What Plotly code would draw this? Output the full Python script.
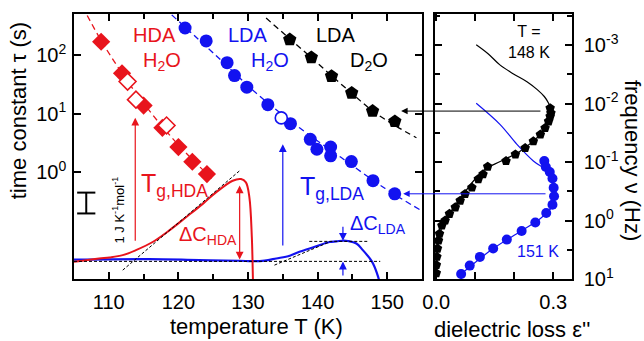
import plotly.graph_objects as go
import math

# ---------------- data ----------------
# Left panel: relaxation time tau (s) vs temperature T (K)
hda_T = [108.9, 111.9, 115.0, 117.7, 120.0, 122.0, 124.1]
hda_tau = [170, 49, 13.8, 5.75, 2.69, 1.51, 0.93]
hda_open_T = [112.7, 113.9, 118.3]
hda_open_tau = [35.5, 17.4, 6.3]
hda_fit_T = [106.9, 109.0, 112.0, 115.0, 118.0, 121.0, 124.85]
hda_fit_tau = [479, 170, 47.3, 15.1, 5.45, 2.19, 0.769]

lda_T = [120.96, 123.99, 127.0, 128.06, 129.83, 132.85, 136.1, 138.95, 139.9,
         141.87, 141.87, 144.85, 147.96, 151.08]
lda_tau = [292, 176, 74.6, 45.0, 28.4, 14.3, 6.76, 3.66, 2.47, 2.70, 1.91, 1.52,
           0.718, 0.428]
lda_open_T = [134.78]
lda_open_tau = [8.49]
lda_fit_T = [119.04, 125.4, 131.4, 137.4, 143.4, 149.6, 154.9]
lda_fit_tau = [490, 98.9, 21.4, 5.75, 1.78, 0.537, 0.221]

d2o_T = [136.0, 139.1, 142.0, 144.9, 147.9, 151.1]
d2o_tau = [185, 91.6, 43.7, 22.6, 11.1, 7.38]
d2o_fit_T = [132.6, 136.0, 139.1, 142.0, 144.9, 147.9, 151.1, 154.2]
d2o_fit_tau = [432, 191, 91.2, 44.7, 22.4, 11.2, 6.31, 3.89]

# DSC heat capacity traces (J K^-1 mol^-1, offset)
dsc_hda_T = [105.0, 108.6, 110.1, 112.0, 113.9, 116.3, 118.7, 121.1, 123.5, 125.4,
             127.8, 129.0, 129.7, 130.2, 130.55, 130.7, 130.75]
dsc_hda_c = [-0.08, 0.08, 0.13, 0.24, 0.48, 0.87, 1.43, 2.06, 2.70, 3.25, 3.81,
             3.89, 3.73, 3.01, 1.11, -0.80, -1.5]
dsc_lda_T = [105.0, 115.8, 123.0, 128.8, 130.6, 132.4, 134.06, 136.0, 137.4, 139.6,
             141.7, 142.7, 143.74, 144.36, 145.57, 146.5, 147.5, 147.96, 148.7, 149.0]
dsc_lda_c = [0.02, 0.05, 0.0, -0.03, -0.05, -0.02, 0.08, 0.21, 0.40, 0.64, 0.87,
             0.90, 0.94, 0.92, 0.80, 0.48, 0.08, -0.16, -0.80, -1.2]
base_T = [105.0, 149.0]
base_c = [-0.06, -0.06]
tan_hda_T = [112.0, 128.8]
tan_hda_c = [-0.48, 4.29]
tan_lda_T = [133.8, 141.7]
tan_lda_c = [-0.24, 0.87]
top_lda_T = [138.8, 147.2]
top_lda_c = [0.90, 0.90]
scalebar_T = 106.76
scalebar_c = [2.24, 3.24]

Tg_hda = 113.8
Tg_lda = 135.0
dC_hda = dict(T=128.8, lo=0.03, hi=3.65)
dC_lda = dict(T=143.64, lo=-0.07, hi=0.93)

# Right panel: dielectric loss spectra
eps_148 = [0.292, 0.294, 0.292, 0.288, 0.279, 0.267, 0.249, 0.228, 0.203, 0.179,
           0.132, 0.12, 0.108, 0.0915, 0.074, 0.0615, 0.049, 0.034, 0.023, 0.0146,
           0.0085, 0.006, 0.0033, 0.0018, 0.0005, 0.0003]
nu_148 = [0.0120, 0.0146, 0.0166, 0.0202, 0.0263, 0.0339, 0.0441, 0.0575, 0.0741,
          0.0962, 0.120, 0.162, 0.196, 0.273, 0.352, 0.458, 0.596, 0.769, 1.0, 1.22,
          1.68, 2.19, 3.02, 4.17, 5.75, 7.94]
fit148_eps = [0.1026, 0.133, 0.164, 0.197, 0.2326, 0.259, 0.277, 0.288, 0.295, 0.290,
              0.267, 0.215, 0.164, 0.131, 0.10, 0.0667, 0.036, 0.0154, 0.005, 0.0013]
fit148_nu = [0.00099, 0.00141, 0.00221, 0.00309, 0.00424, 0.00579, 0.00759, 0.00989,
             0.0137, 0.0186, 0.0335, 0.0652, 0.0982, 0.126, 0.195, 0.377, 0.731,
             1.26, 2.65, 7.03]
eps_151 = [0.277, 0.281, 0.291, 0.298, 0.301, 0.302, 0.298, 0.282, 0.254, 0.219,
           0.181, 0.146, 0.112, 0.086, 0.064]
nu_151 = [0.0962, 0.122, 0.148, 0.191, 0.275, 0.385, 0.537, 0.746, 1.08, 1.51, 2.12,
          3.02, 4.19, 5.90, 8.22]
fit151_eps = [0.1026, 0.164, 0.207, 0.249, 0.284, 0.297, 0.3026, 0.295, 0.267, 0.218,
              0.146, 0.064]
fit151_nu = [0.00989, 0.0229, 0.0501, 0.0962, 0.142, 0.210, 0.377, 0.603, 0.925,
             1.51, 3.02, 8.22]

# arrows linking spectra peaks to tau points
arr148 = dict(tau=11.1, T_tip=152.0, eps_tail=0.271)
arr151 = dict(tau=0.428, T_tip=152.3, eps_tail=0.284)

# ---------------- layout constants ----------------
W, H = 644, 341
ML, MR, MT, MB = 74, 72, 12, 62
PW, PH = W - ML - MR, H - MT - MB
XL = [105, 155]
XR = [-0.003, 0.348]
dom_left = [0, 348 / PW]
dom_right = [361 / PW, 1]

RED = "#e8141c"
BLUE = "#1212f0"
BLK = "#000000"
FONT = "Liberation Sans, Arial, sans-serif"


def px_left(T):
    return ML + dom_left[0] * PW + (T - XL[0]) / (XL[1] - XL[0]) * (dom_left[1] - dom_left[0]) * PW


def px_right(e):
    return ML + dom_right[0] * PW + (e - XR[0]) / (XR[1] - XR[0]) * (dom_right[1] - dom_right[0]) * PW


def xp(px):
    return (px - ML) / PW


def yp(py):
    return (H - MB - py) / PH


fig = go.Figure()

# DSC curves (overlay axis y2)
fig.add_trace(go.Scatter(x=dsc_lda_T, y=dsc_lda_c, yaxis="y2", mode="lines",
                         line=dict(color=BLUE, width=2.2, shape="spline")))
fig.add_trace(go.Scatter(x=dsc_hda_T, y=dsc_hda_c, yaxis="y2", mode="lines",
                         line=dict(color=RED, width=2, shape="spline")))
for tx, ty in [(base_T, base_c), (tan_hda_T, tan_hda_c), (tan_lda_T, tan_lda_c),
               (top_lda_T, top_lda_c)]:
    fig.add_trace(go.Scatter(x=tx, y=ty, yaxis="y2", mode="lines",
                             line=dict(color=BLK, width=1, dash="3px,2px")))
fig.add_trace(go.Scatter(x=[scalebar_T, scalebar_T], y=scalebar_c, yaxis="y2",
                         mode="lines+markers",
                         line=dict(color=BLK, width=2),
                         marker=dict(symbol="line-ew-open", size=13,
                                     line=dict(color=BLK, width=2))))

# fit lines
fig.add_trace(go.Scatter(x=hda_fit_T, y=hda_fit_tau, mode="lines",
                         line=dict(color=RED, width=1.3, dash="6px,4px", shape="spline")))
fig.add_trace(go.Scatter(x=lda_fit_T, y=lda_fit_tau, mode="lines",
                         line=dict(color=BLUE, width=1.3, dash="6px,4px", shape="spline")))
fig.add_trace(go.Scatter(x=d2o_fit_T, y=d2o_fit_tau, mode="lines",
                         line=dict(color=BLK, width=1.3, dash="6px,4px", shape="spline")))

# markers
fig.add_trace(go.Scatter(x=hda_T, y=hda_tau, mode="markers",
                         marker=dict(symbol="diamond", size=14, color=RED)))
fig.add_trace(go.Scatter(x=hda_open_T, y=hda_open_tau, mode="markers",
                         marker=dict(symbol="diamond", size=13, color="white",
                                     line=dict(color=RED, width=1.6))))
fig.add_trace(go.Scatter(x=lda_T, y=lda_tau, mode="markers",
                         marker=dict(symbol="circle", size=13, color=BLUE)))
fig.add_trace(go.Scatter(x=lda_open_T, y=lda_open_tau, mode="markers",
                         marker=dict(symbol="circle", size=12, color="white",
                                     line=dict(color=BLUE, width=1.6))))
fig.add_trace(go.Scatter(x=d2o_T, y=d2o_tau, mode="markers",
                         marker=dict(symbol="pentagon", size=14, color=BLK)))

# right panel
fig.add_trace(go.Scatter(x=fit148_eps, y=fit148_nu, xaxis="x2", yaxis="y3", mode="lines",
                         line=dict(color=BLK, width=1.2, shape="spline")))
fig.add_trace(go.Scatter(x=fit151_eps, y=fit151_nu, xaxis="x2", yaxis="y3", mode="lines",
                         line=dict(color=BLUE, width=1.2, shape="spline")))
fig.add_trace(go.Scatter(x=eps_148, y=nu_148, xaxis="x2", yaxis="y3", mode="markers",
                         marker=dict(symbol="pentagon", size=10, color=BLK)))
fig.add_trace(go.Scatter(x=eps_151, y=nu_151, xaxis="x2", yaxis="y3", mode="markers",
                         marker=dict(symbol="circle", size=10, color=BLUE)))

ann = []


def txt(x, y, s, color, size, xref="x", yref="y", angle=0, xanchor="center"):
    ann.append(dict(x=x, y=y, xref=xref, yref=yref, text=s, showarrow=False,
                    textangle=angle, xanchor=xanchor, yanchor="middle",
                    font=dict(family=FONT, size=size, color=color)))


# labels in left panel (paper pixel positions)
txt(xp(154), yp(33), "HDA", RED, 20, "paper", "paper")
txt(xp(162), yp(60), "H<sub>2</sub>O", RED, 20, "paper", "paper")
txt(xp(248), yp(33), "LDA", BLUE, 20, "paper", "paper")
txt(xp(270), yp(60), "H<sub>2</sub>O", BLUE, 20, "paper", "paper")
txt(xp(336), yp(33), "LDA", BLK, 20, "paper", "paper")
txt(xp(369), yp(60), "D<sub>2</sub>O", BLK, 20, "paper", "paper")
txt(xp(174), yp(184), "T<sub>g,HDA</sub>", RED, 25, "paper", "paper")
txt(xp(332), yp(187), "T<sub>g,LDA</sub>", BLUE, 25, "paper", "paper")
txt(xp(208), yp(235), "\u0394C<sub>HDA</sub>", RED, 20, "paper", "paper")
txt(xp(378), yp(224), "\u0394C<sub>LDA</sub>", BLUE, 20, "paper", "paper")
txt(xp(118), yp(210), "1 J K<sup>-1</sup>mol<sup>-1</sup>", BLK, 13, "paper", "paper", angle=-90)
# right panel labels
txt(xp(529), yp(40), "T =<br>148 K", BLK, 16, "paper", "paper")
txt(xp(538), yp(251), "151 K", BLUE, 16, "paper", "paper")
# axis titles
txt(xp(18), yp(110), "time constant \u03c4 (s)", BLK, 22, "paper", "paper", angle=-90)
txt(xp(632), yp(159), "frequency \u03bd (Hz)", BLK, 22, "paper", "paper", angle=90)
txt(xp(256), yp(327), "temperature T (K)", BLK, 22, "paper", "paper")
txt(xp(512), yp(330), "dielectric loss \u03b5''", BLK, 22, "paper", "paper")


def arrow(x, y, axv, ayv, color, xref="x", yref="y", side="end", width=1.2, absolute=True):
    d = dict(x=x, y=y, xref=xref, yref=yref, showarrow=True, text="",
             arrowcolor=color, arrowwidth=width, arrowhead=2, arrowsize=1.3,
             arrowside=side, startarrowhead=2, startarrowsize=1.3)
    if absolute:
        d.update(ax=axv, ay=ayv, axref=xref, ayref=yref)
    else:
        d.update(ax=axv, ay=ayv)
    ann.append(d)


# Tg arrows (log axis: use log10 values)
arrow(Tg_hda, 0.933, Tg_hda, -1.195, RED)
arrow(Tg_lda, 0.48, Tg_lda, -1.28, BLUE)
# delta C arrows
arrow(dC_hda["T"], dC_hda["lo"], dC_hda["T"], dC_hda["hi"], RED, yref="y2", side="end+start")
arrow(dC_lda["T"], dC_lda["hi"], dC_lda["T"], dC_lda["hi"] + 0.74, BLUE, yref="y2")
arrow(dC_lda["T"], dC_lda["lo"], dC_lda["T"], dC_lda["lo"] - 0.74, BLUE, yref="y2")
# peak -> tau arrows spanning both panels
for a, col in [(arr148, BLK), (arr151, BLUE)]:
    axpx = px_right(a["eps_tail"]) - px_left(a["T_tip"])
    arrow(a["T_tip"], math.log10(a["tau"]), axpx, 0, col, width=1, absolute=False)

axis_common = dict(showline=True, linecolor=BLK, linewidth=1.5, mirror="ticks",
                   ticks="inside", tickcolor=BLK, tickwidth=1.5, showgrid=False,
                   zeroline=False, tickfont=dict(family=FONT, size=20, color=BLK))

fig.update_layout(
    width=W, height=H, margin=dict(l=ML, r=MR, t=MT, b=MB, pad=0),
    paper_bgcolor="white", plot_bgcolor="white", showlegend=False,
    annotations=ann,
    xaxis=dict(domain=dom_left, range=XL, anchor="y",
               tickvals=[110, 120, 130, 140, 150], ticklen=7,
               minor=dict(tickvals=[115, 125, 135, 145], ticklen=5, ticks="inside",
                          tickcolor=BLK, tickwidth=1.5),
               ticklabelstandoff=4, **axis_common),
    yaxis=dict(domain=[0, 1], type="log", range=[-1.825, 2.705], anchor="x",
               tickvals=[1, 10, 100],
               ticktext=["10<sup>0</sup>", "10<sup>1</sup>", "10<sup>2</sup>"],
               ticklen=7, ticklabelstandoff=2, **axis_common),
    yaxis2=dict(overlaying="y", anchor="x", range=[-0.905, 11.81], visible=False),
    xaxis2=dict(domain=dom_right, range=XR, anchor="y3",
                tickvals=[0, 0.1, 0.2, 0.3], ticktext=["0.0", "", "", "0.3"],
                ticklen=7, ticklabelstandoff=4, **axis_common),
    yaxis3=dict(domain=[0, 1], type="log", range=[1.0, -3.53], anchor="x2", side="right",
                tickvals=[1e-3, 1e-2, 1e-1, 1, 10],
                ticktext=["10<sup>-3</sup>", "10<sup>-2</sup>", "10<sup>-1</sup>",
                          "10<sup>0</sup>", "10<sup>1</sup>"],
                ticklen=7, ticklabelstandoff=6,
                minor=dict(tickvals=[3.16e-4, 3.16e-3, 3.16e-2, 0.316, 3.16],
                           ticklen=5, ticks="inside", tickcolor=BLK, tickwidth=1.5),
                **axis_common),
)

fig.write_html("out.html")
